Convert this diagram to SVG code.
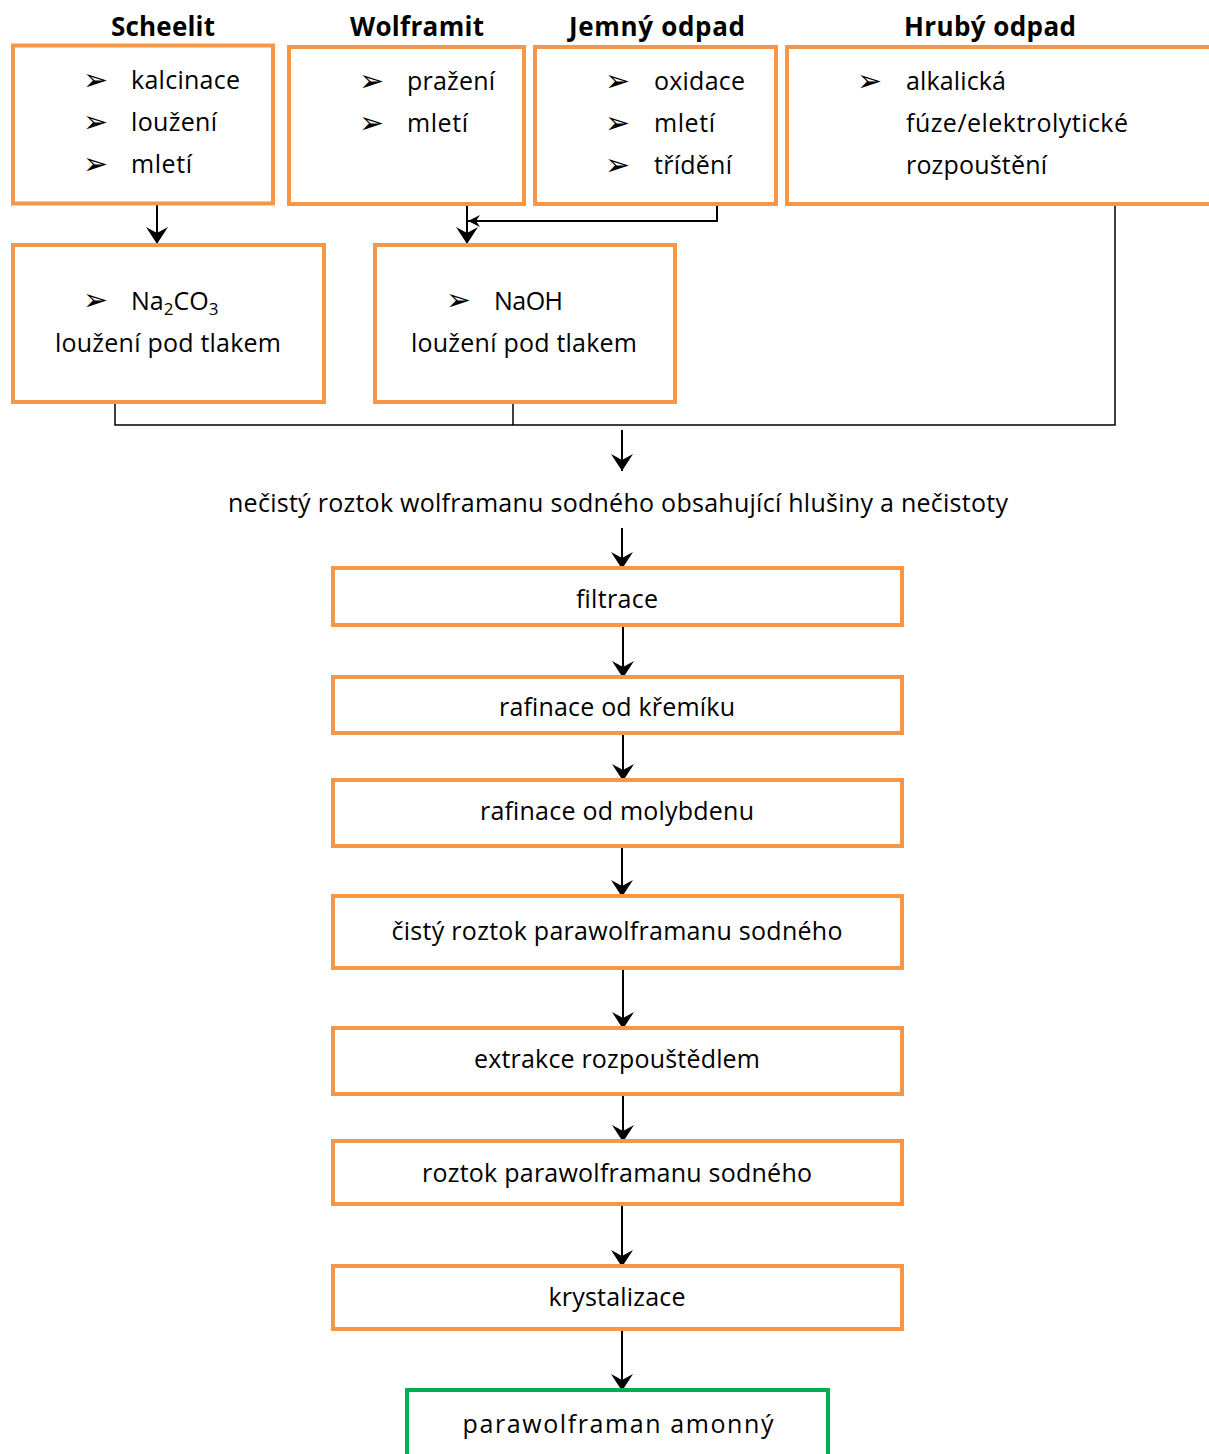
<svg xmlns="http://www.w3.org/2000/svg" width="1209" height="1454" viewBox="0 0 1209 1454">
<defs>
<style>
.box{fill:#fff;stroke:#F79646;stroke-width:4}
.gbox{fill:#fff;stroke:#00B050;stroke-width:4}
.t{font-family:"Open Sans","Liberation Sans",sans-serif;font-size:25px;fill:#000}
.h{font-family:"Open Sans","Liberation Sans",sans-serif;font-size:26px;font-weight:bold;fill:#000;text-anchor:middle}
.c{text-anchor:middle}
.b{font-family:"DejaVu Sans",sans-serif;font-size:30px;fill:#000}
.ln{fill:none;stroke:#000;stroke-width:2}
.ln1{fill:none;stroke:#000;stroke-width:1.5}
</style>
<marker id="ah" markerUnits="userSpaceOnUse" markerWidth="24" markerHeight="24" viewBox="0 0 24 24" refX="17" refY="12" orient="auto">
<path d="M0,1 L17,12 L0,23 L6,12 z" fill="#000"/>
</marker>
<marker id="ahs" markerUnits="userSpaceOnUse" markerWidth="14" markerHeight="14" viewBox="0 0 14 14" refX="12" refY="7" orient="auto">
<path d="M0,1 L12,7 L0,13 L4,7 z" fill="#000"/>
</marker>
</defs>
<rect width="1209" height="1454" fill="#fff"/>

<g id="connectors">
<path class="ln" d="M157,205 V244" marker-end="url(#ah)"/>
<path class="ln" d="M467,205 V244" marker-end="url(#ah)"/>
<path class="ln" d="M717,205 V221 H468" marker-end="url(#ahs)"/>
<path class="ln1" d="M1115,205 V425 H115 V403"/>
<path class="ln1" d="M513,403 V425"/>
<path class="ln" d="M622,430 V471" marker-end="url(#ah)"/>
<path class="ln" d="M622,528 V569" marker-end="url(#ah)"/>
<path class="ln" d="M623,625 V678" marker-end="url(#ah)"/>
<path class="ln" d="M623,733 V781" marker-end="url(#ah)"/>
<path class="ln" d="M622,847 V897" marker-end="url(#ah)"/>
<path class="ln" d="M623,969 V1029" marker-end="url(#ah)"/>
<path class="ln" d="M623,1095 V1142" marker-end="url(#ah)"/>
<path class="ln" d="M622,1205 V1267" marker-end="url(#ah)"/>
<path class="ln" d="M622,1330 V1391" marker-end="url(#ah)"/>
</g>

<g id="scheelit">
<text class="h" x="163" y="36" textLength="104">Scheelit</text>
<rect class="box" x="13" y="45.5" width="260" height="158"/>
<text class="b" x="83" y="90">➢</text><text class="t" x="131" y="89" textLength="109">kalcinace</text>
<text class="b" x="83" y="132">➢</text><text class="t" x="131" y="131" textLength="86">loužení</text>
<text class="b" x="83" y="174">➢</text><text class="t" x="131" y="173" textLength="61">mletí</text>
</g>

<g id="wolframit">
<text class="h" x="417" y="36" textLength="134">Wolframit</text>
<rect class="box" x="289" y="47" width="235" height="157"/>
<text class="b" x="359" y="91">➢</text><text class="t" x="407" y="90" textLength="88">pražení</text>
<text class="b" x="359" y="133">➢</text><text class="t" x="407" y="132" textLength="61">mletí</text>
</g>

<g id="jemny">
<text class="h" x="657" y="36" textLength="176">Jemný odpad</text>
<rect class="box" x="535" y="47" width="241" height="157"/>
<text class="b" x="605" y="91">➢</text><text class="t" x="654" y="90" textLength="91">oxidace</text>
<text class="b" x="605" y="133">➢</text><text class="t" x="654" y="132" textLength="61">mletí</text>
<text class="b" x="605" y="175">➢</text><text class="t" x="654" y="174" textLength="78">třídění</text>
</g>

<g id="hruby">
<text class="h" x="990" y="36" textLength="172">Hrubý odpad</text>
<rect class="box" x="787" y="47" width="440" height="157"/>
<text class="b" x="857" y="91">➢</text><text class="t" x="906" y="90" textLength="100">alkalická</text>
<text class="t" x="906" y="132" textLength="222">fúze/elektrolytické</text>
<text class="t" x="906" y="174" textLength="141">rozpouštění</text>
</g>

<g id="na2co3">
<rect class="box" x="13" y="245" width="311" height="157"/>
<text class="b" x="83" y="310">➢</text><text class="t" x="131" y="310">Na<tspan font-size="17" dy="5">2</tspan><tspan dy="-5">CO</tspan><tspan font-size="17" dy="5">3</tspan></text>
<text class="t c" x="168" y="352" textLength="226">loužení pod tlakem</text>
</g>

<g id="naoh">
<rect class="box" x="375" y="245" width="300" height="157"/>
<text class="b" x="446" y="310">➢</text><text class="t" x="494" y="310" textLength="69">NaOH</text>
<text class="t c" x="524" y="352" textLength="226">loužení pod tlakem</text>
</g>

<g id="necisty">
<text class="t c" x="618" y="512" textLength="780">nečistý roztok wolframanu sodného obsahující hlušiny a nečistoty</text>
</g>

<g id="filtrace">
<rect class="box" x="333" y="568" width="569" height="57"/>
<text class="t c" x="617" y="608" textLength="82">filtrace</text>
</g>

<g id="kremik">
<rect class="box" x="333" y="677" width="569" height="56"/>
<text class="t c" x="617" y="716" textLength="236">rafinace od křemíku</text>
</g>

<g id="molybden">
<rect class="box" x="333" y="780" width="569" height="66"/>
<text class="t c" x="617" y="820" textLength="274">rafinace od molybdenu</text>
</g>

<g id="cisty">
<rect class="box" x="333" y="896" width="569" height="72"/>
<text class="t c" x="617" y="940" textLength="451">čistý roztok parawolframanu sodného</text>
</g>

<g id="extrakce">
<rect class="box" x="333" y="1028" width="569" height="66"/>
<text class="t c" x="617" y="1068" textLength="286">extrakce rozpouštědlem</text>
</g>

<g id="roztok">
<rect class="box" x="333" y="1141" width="569" height="63"/>
<text class="t c" x="617" y="1182" textLength="390">roztok parawolframanu sodného</text>
</g>

<g id="krystalizace">
<rect class="box" x="333" y="1266" width="569" height="63"/>
<text class="t c" x="617" y="1306" textLength="137">krystalizace</text>
</g>

<g id="apt">
<rect class="gbox" x="407" y="1390" width="421" height="80"/>
<text class="t c" x="618" y="1433" textLength="311">parawolframan amonný</text>
</g>
</svg>
